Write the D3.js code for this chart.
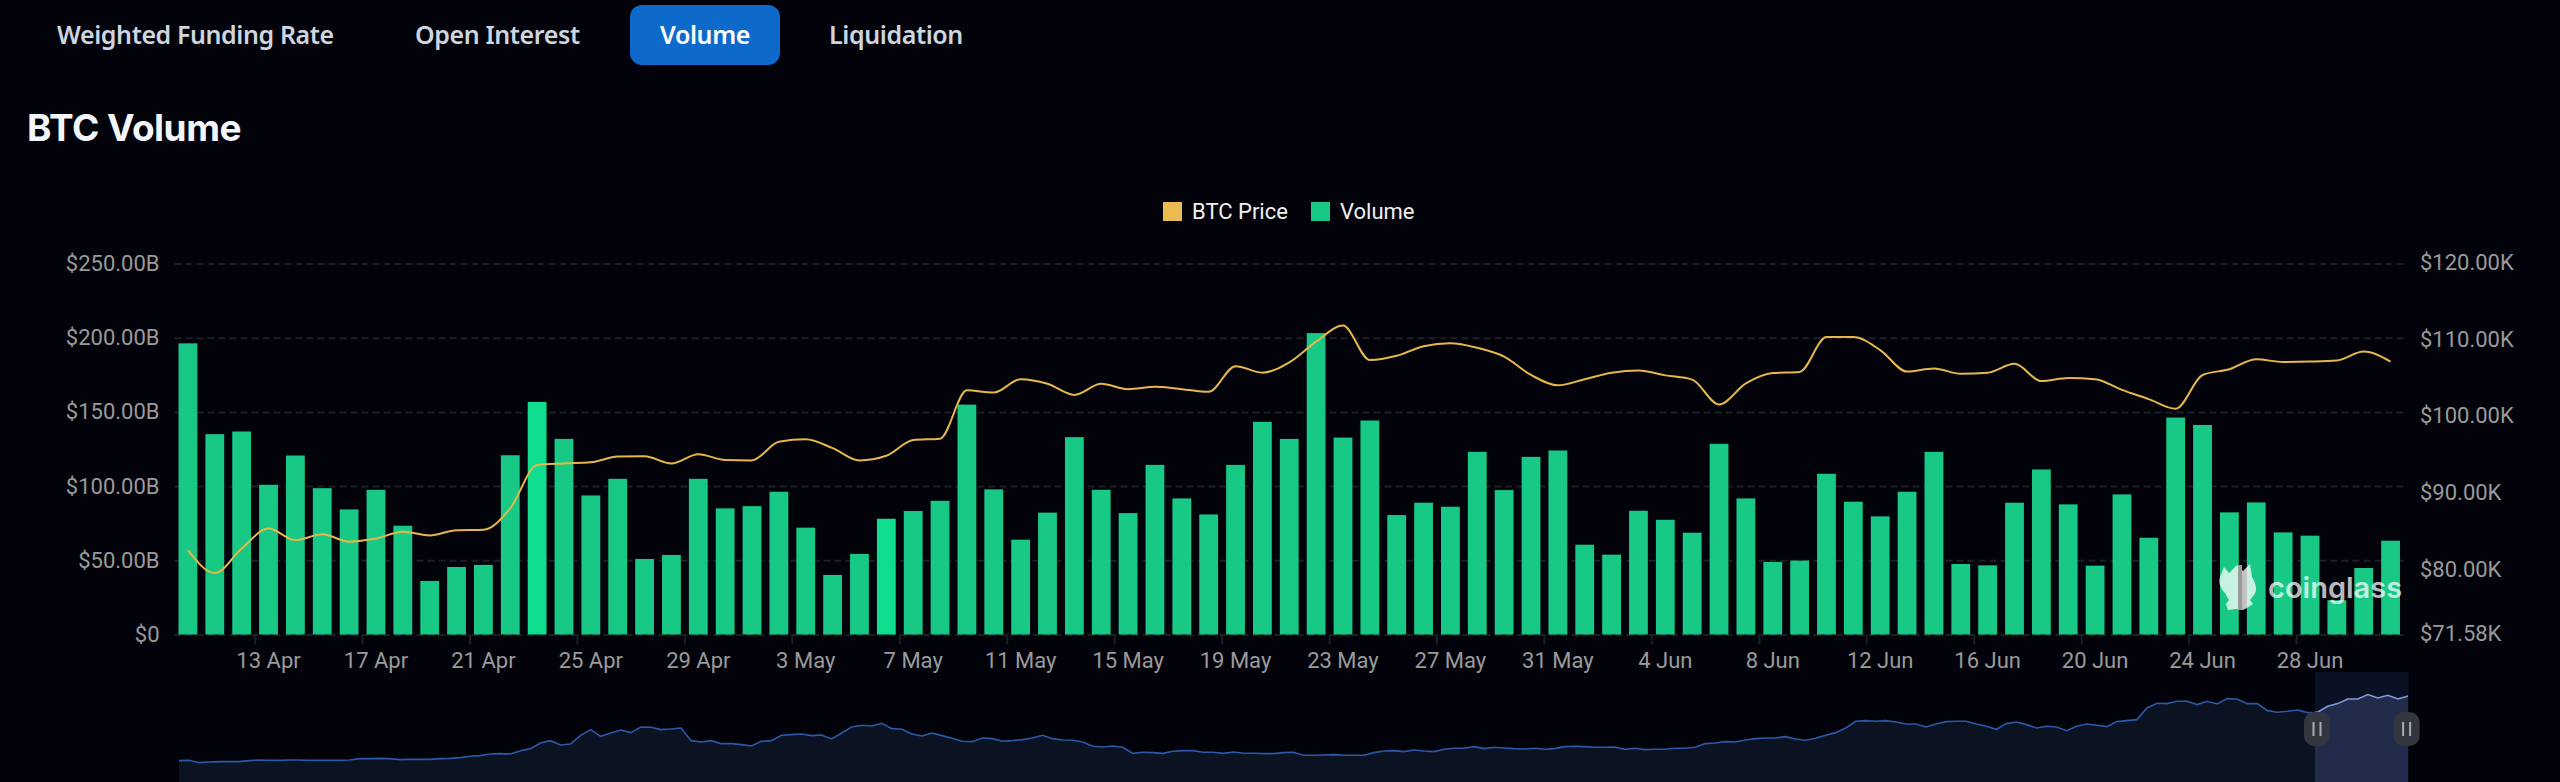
<!DOCTYPE html>
<html>
<head>
<meta charset="utf-8">
<title>BTC Volume</title>
<script src="https://cdn.jsdelivr.net/npm/d3@7"></script>
<style>
  html, body { margin: 0; background: #02030a; overflow: hidden; }
  svg { display: block; }
  text { font-family: Roboto, sans-serif; }
  .axis text { fill: #9a9a9a; font-size: 22px; }
  .axis path.domain { display: none; }
  .tab { font-family: "Noto Sans", sans-serif; font-size: 25px; font-weight: 600; letter-spacing: -0.4px; fill: #cdd5df; }
</style>
</head>
<body>
<div id="chart"></div>
<script>
"use strict"

var tabs = ["Weighted Funding Rate", "Open Interest", "Volume", "Liquidation"]
var activeTab = "Volume"

// one entry per day, 10 Apr to 1 Jul
var days = [
  "10 Apr", "11 Apr", "12 Apr", "13 Apr", "14 Apr", "15 Apr", "16 Apr", "17 Apr", "18 Apr", "19 Apr",
  "20 Apr", "21 Apr", "22 Apr", "23 Apr", "24 Apr", "25 Apr", "26 Apr", "27 Apr", "28 Apr", "29 Apr", "30 Apr",
  "1 May", "2 May", "3 May", "4 May", "5 May", "6 May", "7 May", "8 May", "9 May", "10 May",
  "11 May", "12 May", "13 May", "14 May", "15 May", "16 May", "17 May", "18 May", "19 May", "20 May",
  "21 May", "22 May", "23 May", "24 May", "25 May", "26 May", "27 May", "28 May", "29 May", "30 May", "31 May",
  "1 Jun", "2 Jun", "3 Jun", "4 Jun", "5 Jun", "6 Jun", "7 Jun", "8 Jun", "9 Jun", "10 Jun",
  "11 Jun", "12 Jun", "13 Jun", "14 Jun", "15 Jun", "16 Jun", "17 Jun", "18 Jun", "19 Jun", "20 Jun",
  "21 Jun", "22 Jun", "23 Jun", "24 Jun", "25 Jun", "26 Jun", "27 Jun", "28 Jun", "29 Jun", "30 Jun", "1 Jul"
]

// volume in $B
var volume = [
  196.2, 135, 136.8, 100.9, 120.6, 98.6, 84.3, 97.5, 73.3, 36.1,
  45.5, 46.9, 120.8, 156.7, 131.8, 93.7, 104.9, 50.9, 53.6, 104.9, 85,
  86.5, 96.2, 72, 40.1, 54.3, 78, 83.2, 90.1, 154.9, 97.8,
  63.9, 82.1, 133, 97.5, 81.8, 114.3, 91.7, 80.9, 114.3, 143.3,
  131.8, 203.1, 132.7, 144.2, 80.5, 88.8, 86.1, 123.1, 97.3, 119.7, 124,
  60.5, 53.8, 83.4, 77.3, 68.6, 128.5, 91.7, 48.9, 49.8, 108.3,
  89.5, 79.6, 96.2, 123.1, 47.5, 46.6, 88.8, 111.2, 87.7, 46.4,
  94.4, 65.2, 146.2, 141.2, 82.3, 89, 68.8, 66.6, 23.1, 44.8, 63.2
]

// BTC price in $K
var price = [
  82.6, 79.6, 82.8, 85.4, 83.9, 84.65, 83.7, 84.1, 85, 84.5,
  85.2, 85.26, 88.05, 93.7, 93.9, 94.05, 94.8, 94.85, 93.9, 95.1, 94.35,
  94.3, 96.75, 97.05, 95.9, 94.3, 94.9, 96.96, 97.14, 103.45, 103.15,
  104.9, 104.3, 102.85, 104.3, 103.6, 103.9, 103.6, 103.25, 106.6, 105.75,
  107.1, 109.8, 111.9, 107.4, 107.95, 109.2, 109.6, 109, 107.85, 105.45, 104.1,
  104.9, 105.75, 106.05, 105.4, 104.85, 101.6, 104.35, 105.7, 105.85, 110.4,
  110.4, 108.7, 105.9, 106.3, 105.6, 105.75, 106.9, 104.65, 105.05, 104.9,
  103.5, 102.3, 101.05, 105.45, 106.2, 107.5, 107.15, 107.2, 107.35, 108.5, 107.2
]

// the two bars that are brighter in the picture
var brightDays = ["23 Apr", "6 May"]

var volumeTicks = [0, 50, 100, 150, 200, 250]
var priceTicks = [71.58, 80, 90, 100, 110, 120]
var dayTicks = days.filter(function(d, i) { return (i - 3) % 4 === 0 && i >= 3 })

// overview strip: full history of the price in $K, evenly sampled
var overview = [
  8, 8.5, 5, 6, 6.5, 6.5, 6.5, 8, 9, 8.5, 8.5, 9, 9, 8.5, 8.5, 8.5, 8.5, 9, 11, 11,
  11.5, 11, 9.5, 10, 10, 10, 11, 11.5, 12.5, 14.5, 15.5, 18, 18.5, 18, 23, 26, 34.5, 38, 31.5, 33,
  46, 54.5, 44.5, 49.5, 54, 50, 58.5, 58, 54.5, 55.5, 57,
  38, 36, 38, 33.5, 33.5, 32, 30, 37, 38, 46, 47, 48, 45.5, 46.5, 40.5, 49.5, 58.5, 61, 60,
  64, 56, 55, 48, 45, 49.5, 45.5, 41.5, 37, 36.5, 42, 41, 37, 38, 39.5, 42, 46, 41, 39, 38.5,
  36, 29.5, 28.5, 30, 28, 19, 20.5, 20, 19, 22, 23, 23, 20.5,
  20.5, 19, 21, 19, 19, 18.5, 18.5, 20, 20.5, 16, 16, 16.5, 17, 16, 16, 16, 20, 22.5, 23, 21.5,
  24, 22.5, 21.5, 25, 26.5, 26.5, 29, 26, 28, 27, 26, 25.5, 26.5, 25, 26, 29, 29.5, 29, 28, 28,
  28.5, 25, 26.5, 24.5, 25, 25, 26.5, 26.5, 28, 33.5, 34.5, 36.5,
  36, 39, 41, 42, 42, 44, 40.5, 38.5, 41.5, 46, 50, 57, 67, 68, 67, 68, 66, 63, 63, 58.5,
  63, 66.5, 67, 67, 63, 59.5, 55, 63.5, 66, 62, 57, 59.5, 58.5, 53, 59.5, 63, 61, 59, 66.5, 68,
  69.5, 87, 94, 93.5, 97, 97, 92, 97, 93, 101, 100, 93.5, 93.5, 83, 80.5, 82, 84, 80, 80.5, 89.5,
  93.5, 100.5, 100.5, 107, 102, 106, 100.5, 105
]

var width = 2560
var height = 782

var svg = d3.select("#chart").append("svg")
  .attr("width", width)
  .attr("height", height)
  .attr("viewBox", "0 0 " + width + " " + height)

// ---- header ----
var tabX = [57, 415, 660, 829]
tabs.forEach(function(name, i) {
  if (name === activeTab) {
    svg.append("rect")
      .attr("x", 630).attr("y", 5)
      .attr("width", 150).attr("height", 60)
      .attr("rx", 12)
      .attr("fill", "#0d6acb")
  }
  svg.append("text")
    .attr("class", "tab")
    .attr("x", tabX[i])
    .attr("y", 44)
    .style("fill", name === activeTab ? "#ffffff" : null)
    .text(name)
})

svg.append("text")
  .attr("x", 27)
  .attr("y", 141)
  .attr("fill", "#f2f5f9")
  .style("font-family", "Inter, sans-serif")
  .style("font-size", "37px")
  .style("font-weight", 700)
  .style("letter-spacing", "-0.5px")
  .text("BTC Volume")

// ---- legend ----
var legendItems = [
  { label: "BTC Price", color: "#e9bb50", x: 1163 },
  { label: "Volume", color: "#18c985", x: 1311 }
]
legendItems.forEach(function(item) {
  svg.append("rect")
    .attr("x", item.x).attr("y", 202)
    .attr("width", 19).attr("height", 19)
    .attr("fill", item.color)
  svg.append("text")
    .attr("x", item.x + 29).attr("y", 219)
    .attr("fill", "#f0f0f0")
    .style("font-size", "22px")
    .text(item.label)
})

// ---- scales ----
var plot = { left: 174.5, right: 2404, top: 263.5, bottom: 634.5 }

var x = d3.scaleBand()
  .domain(days)
  .range([plot.left, plot.right])
  .paddingInner(0.3)
  .paddingOuter(0.15)

var yVolume = d3.scaleLinear()
  .domain([0, 250])
  .range([plot.bottom, plot.top])

var yPrice = d3.scaleLinear()
  .domain([71.58, 120])
  .range([plot.bottom, plot.top])

function center(d) { return x(d) + x.bandwidth() / 2 }

// ---- axes ----
var leftAxis = svg.append("g")
  .attr("class", "axis")
  .attr("transform", "translate(" + plot.left + ",0)")
  .call(d3.axisLeft(yVolume)
    .tickValues(volumeTicks)
    .tickSize(-(plot.right - plot.left))
    .tickPadding(15)
    .tickFormat(function(d) { return d === 0 ? "$0" : "$" + d.toFixed(2) + "B" }))
leftAxis.selectAll("line")
  .attr("stroke", "#1d1f24")
  .attr("stroke-width", 2)
  .attr("stroke-dasharray", "7 4")

svg.append("g")
  .attr("class", "axis")
  .attr("transform", "translate(" + plot.right + ",-1)")
  .call(d3.axisRight(yPrice)
    .tickValues(priceTicks)
    .tickSize(0)
    .tickPadding(16)
    .tickFormat(function(d) { return "$" + d.toFixed(2) + "K" }))

svg.append("g")
  .attr("class", "axis")
  .attr("transform", "translate(0," + plot.bottom + ")")
  .call(d3.axisBottom(x)
    .tickValues(dayTicks)
    .tickSize(0)
    .tickPadding(18))

svg.append("g")
  .selectAll("line")
  .data(dayTicks)
  .enter().append("line")
    .attr("x1", function(d) { return x(d) - x.step() * 0.15 })
    .attr("x2", function(d) { return x(d) - x.step() * 0.15 })
    .attr("y1", plot.bottom)
    .attr("y2", plot.bottom + 10)
    .attr("stroke", "#1d1f24")
    .attr("stroke-width", 2)

// ---- bars ----
svg.append("g")
  .selectAll("rect")
  .data(days)
  .enter().append("rect")
    .attr("x", function(d) { return x(d) })
    .attr("y", function(d, i) { return yVolume(volume[i]) })
    .attr("width", x.bandwidth())
    .attr("height", function(d, i) { return yVolume(0) - yVolume(volume[i]) })
    .attr("fill", function(d) { return brightDays.indexOf(d) >= 0 ? "#10dc8e" : "#18c985" })

// ---- price line ----
var line = d3.line()
  .x(function(d, i) { return center(days[i]) })
  .y(function(d) { return yPrice(d) })
  .curve(d3.curveMonotoneX)

svg.append("path")
  .datum(price)
  .attr("d", line)
  .attr("fill", "none")
  .attr("stroke", "#e5b74c")
  .attr("stroke-width", 2)

// ---- watermark ----
var mark = svg.append("g")
  .attr("transform", "translate(2219,563)")
mark.append("path")
  .attr("d", "M5 4 L10 10 L18 2 L24 8 L31 1 L33 14 C38 22 38 28 35 32 L31 37 L34 41 L28 45 L24 47 L17 46 L9 47 L7 41 L10 37 L6 30 C2 26 -1 20 1 14 Z")
  .attr("fill", "#ffffff")
  .attr("opacity", 0.76)
mark.append("rect")
  .attr("x", 19).attr("y", 2)
  .attr("width", 4).attr("height", 45)
  .attr("fill", "#9a9a9a")
svg.append("text")
  .attr("x", 2268)
  .attr("y", 598)
  .attr("fill", "#ffffff")
  .attr("opacity", 0.72)
  .style("font-family", "Inter, sans-serif")
  .style("font-size", "29px")
  .style("font-weight", 600)
  .text("coinglass")

// ---- overview strip ----
var strip = { left: 179, right: 2408, selLeft: 2315, selRight: 2408.6, selTop: 672, bottom: 782 }

var xOverview = d3.scaleLinear()
  .domain([0, overview.length - 1])
  .range([strip.left, strip.right])

var yOverview = d3.scaleLinear()
  .domain([0, 110])
  .range([766, 692.6])

var area = d3.area()
  .x(function(d, i) { return xOverview(i) })
  .y0(strip.bottom)
  .y1(function(d) { return yOverview(d) })

var overviewLine = d3.line()
  .x(function(d, i) { return xOverview(i) })
  .y(function(d) { return yOverview(d) })

svg.append("path")
  .datum(overview)
  .attr("d", area)
  .attr("fill", "#0b1222")

svg.append("path")
  .datum(overview)
  .attr("d", overviewLine)
  .attr("fill", "none")
  .attr("stroke", "#2c58a8")
  .attr("stroke-width", 1.6)

svg.append("clipPath")
  .attr("id", "selection")
  .append("rect")
    .attr("x", strip.selLeft)
    .attr("y", strip.selTop)
    .attr("width", strip.selRight - strip.selLeft)
    .attr("height", strip.bottom - strip.selTop)

svg.append("rect")
  .attr("x", strip.selLeft)
  .attr("y", strip.selTop)
  .attr("width", strip.selRight - strip.selLeft)
  .attr("height", strip.bottom - strip.selTop)
  .attr("fill", "#0b1124")

svg.append("path")
  .datum(overview)
  .attr("d", area)
  .attr("fill", "#212c4a")
  .attr("clip-path", "url(#selection)")

svg.append("path")
  .datum(overview)
  .attr("d", overviewLine)
  .attr("fill", "none")
  .attr("stroke", "#7f9bdc")
  .attr("stroke-width", 1.6)
  .attr("clip-path", "url(#selection)")

var handles = [strip.selLeft + 2, strip.selRight - 2]
handles.forEach(function(hx) {
  svg.append("rect")
    .attr("x", hx - 13).attr("y", 712)
    .attr("width", 26).attr("height", 34)
    .attr("rx", 10)
    .attr("fill", "#33363f")
  ;[-3.5, 3.5].forEach(function(dx) {
    svg.append("rect")
      .attr("x", hx + dx - 1).attr("y", 722)
      .attr("width", 2).attr("height", 14)
      .attr("fill", "#a9abb2")
  })
})
</script>
</body>
</html>
